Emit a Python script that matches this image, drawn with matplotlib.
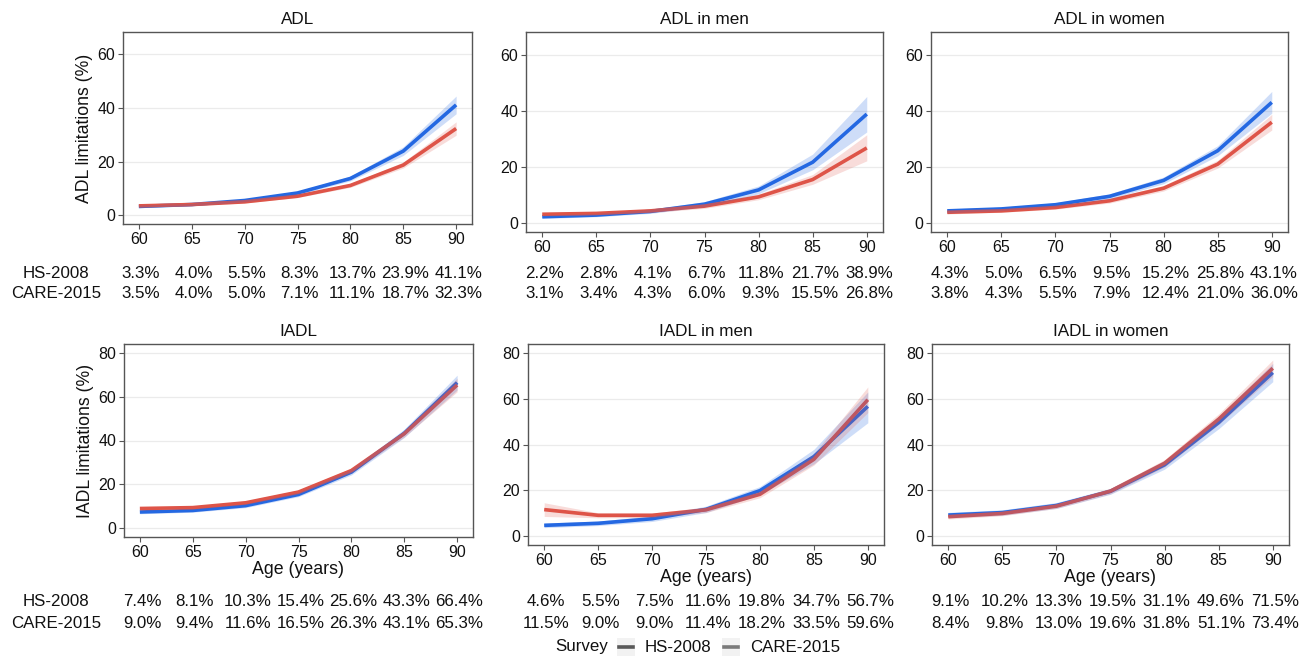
import matplotlib
matplotlib.use("Agg")
import matplotlib.pyplot as plt
from matplotlib import transforms
from matplotlib.lines import Line2D
from matplotlib.patches import Rectangle

plt.rcParams['font.family'] = ['Liberation Sans', 'DejaVu Sans']

ages = [60, 65, 70, 75, 80, 85, 90]
series_names = ["HS-2008", "CARE-2015"]
panel_titles = ["ADL", "ADL in men", "ADL in women", "IADL", "IADL in men", "IADL in women"]

adl_hs = [3.3, 4.0, 5.5, 8.3, 13.7, 23.9, 41.1]
adl_care = [3.5, 4.0, 5.0, 7.1, 11.1, 18.7, 32.3]
adl_men_hs = [2.2, 2.8, 4.1, 6.7, 11.8, 21.7, 38.9]
adl_men_care = [3.1, 3.4, 4.3, 6.0, 9.3, 15.5, 26.8]
adl_women_hs = [4.3, 5.0, 6.5, 9.5, 15.2, 25.8, 43.1]
adl_women_care = [3.8, 4.3, 5.5, 7.9, 12.4, 21.0, 36.0]
iadl_hs = [7.4, 8.1, 10.3, 15.4, 25.6, 43.3, 66.4]
iadl_care = [9.0, 9.4, 11.6, 16.5, 26.3, 43.1, 65.3]
iadl_men_hs = [4.6, 5.5, 7.5, 11.6, 19.8, 34.7, 56.7]
iadl_men_care = [11.5, 9.0, 9.0, 11.4, 18.2, 33.5, 59.6]
iadl_women_hs = [9.1, 10.2, 13.3, 19.5, 31.1, 49.6, 71.5]
iadl_women_care = [8.4, 9.8, 13.0, 19.6, 31.8, 51.1, 73.4]

# estimated confidence bands (lower, upper)
adl_hs_lo = [2.8, 3.6, 5.0, 7.7, 12.8, 22.3, 37.8]
adl_hs_hi = [3.8, 4.4, 6.0, 8.9, 14.6, 25.5, 44.4]
adl_care_lo = [3.1, 3.6, 4.6, 6.6, 10.4, 17.6, 29.8]
adl_care_hi = [3.9, 4.4, 5.4, 7.6, 11.8, 19.8, 34.8]
adl_men_hs_lo = [1.6, 2.2, 3.4, 5.8, 10.4, 19.0, 32.5]
adl_men_hs_hi = [2.8, 3.4, 4.8, 7.6, 13.2, 24.6, 45.2]
adl_men_care_lo = [2.5, 2.9, 3.7, 5.2, 8.3, 13.8, 22.2]
adl_men_care_hi = [3.7, 3.9, 4.9, 6.8, 10.3, 17.3, 31.5]
adl_women_hs_lo = [3.6, 4.4, 5.8, 8.6, 14.0, 24.0, 39.2]
adl_women_hs_hi = [5.0, 5.6, 7.2, 10.4, 16.4, 27.6, 47.0]
adl_women_care_lo = [3.2, 3.8, 4.9, 7.1, 11.4, 19.6, 33.2]
adl_women_care_hi = [4.4, 4.8, 6.1, 8.7, 13.4, 22.4, 38.8]
iadl_hs_lo = [6.6, 7.3, 9.4, 14.4, 24.3, 41.4, 63.0]
iadl_hs_hi = [8.2, 8.9, 11.2, 16.4, 26.9, 45.2, 69.8]
iadl_care_lo = [8.3, 8.7, 10.8, 15.6, 25.2, 41.6, 62.2]
iadl_care_hi = [9.7, 10.1, 12.4, 17.4, 27.4, 44.6, 68.4]
iadl_men_hs_lo = [3.6, 4.5, 6.3, 10.2, 18.0, 31.5, 49.5]
iadl_men_hs_hi = [5.6, 6.5, 8.7, 13.0, 21.6, 37.9, 63.0]
iadl_men_care_lo = [8.5, 7.9, 8.0, 10.2, 16.7, 31.0, 54.0]
iadl_men_care_hi = [14.5, 10.1, 10.0, 12.6, 19.7, 36.0, 65.2]
iadl_women_hs_lo = [7.9, 9.0, 12.0, 18.2, 29.2, 46.9, 67.5]
iadl_women_hs_hi = [10.3, 11.4, 14.6, 20.8, 33.0, 52.3, 75.5]
iadl_women_care_lo = [7.4, 8.8, 12.0, 18.4, 30.2, 48.8, 69.8]
iadl_women_care_hi = [9.4, 10.8, 14.0, 20.8, 33.4, 53.4, 77.0]

panels = [
    (adl_hs, adl_hs_lo, adl_hs_hi, adl_care, adl_care_lo, adl_care_hi),
    (adl_men_hs, adl_men_hs_lo, adl_men_hs_hi, adl_men_care, adl_men_care_lo, adl_men_care_hi),
    (adl_women_hs, adl_women_hs_lo, adl_women_hs_hi, adl_women_care, adl_women_care_lo, adl_women_care_hi),
    (iadl_hs, iadl_hs_lo, iadl_hs_hi, iadl_care, iadl_care_lo, iadl_care_hi),
    (iadl_men_hs, iadl_men_hs_lo, iadl_men_hs_hi, iadl_men_care, iadl_men_care_lo, iadl_men_care_hi),
    (iadl_women_hs, iadl_women_hs_lo, iadl_women_hs_hi, iadl_women_care, iadl_women_care_lo, iadl_women_care_hi),
]

BLUE = "#2468e2"
RED = "#de5448"
TXT = "#111111"
W, H = 1309, 658
fig = plt.figure(figsize=(W / 100, H / 100), dpi=100)

boxes = [
    (123, 472, 32, 224), (526, 883, 32, 232), (931, 1288, 32, 232),
    (124, 473, 344, 537), (528, 884, 344, 545), (932, 1289, 344, 545),
]
table_rows_y = [(273, 294), (602, 623)]

def fy(y):
    return 1 - y / H

for i, (title, data, box) in enumerate(zip(panel_titles, panels, boxes)):
    x0, x1, y0, y1 = box
    ax = fig.add_axes([x0 / W, fy(y1), (x1 - x0) / W, (y1 - y0) / H])
    hs, hs_lo, hs_hi, ca, ca_lo, ca_hi = data
    ax.plot(ages, hs, color=BLUE, lw=2.6, zorder=3, solid_capstyle='butt')
    ax.plot(ages, ca, color=RED, lw=2.6, zorder=3, solid_capstyle='butt')
    ax.fill_between(ages, hs_lo, hs_hi, color=BLUE, alpha=0.22, lw=0, zorder=4)
    ax.fill_between(ages, ca_lo, ca_hi, color=RED, alpha=0.2, lw=0, zorder=4)
    ax.set_xlim(58.5, 91.5)
    ax.set_xticks(ages)
    if i < 3:
        ax.set_ylim(-3.25, 68.25)
        ax.set_yticks([0, 20, 40, 60])
    else:
        ax.set_ylim(-4, 84)
        ax.set_yticks([0, 20, 40, 60, 80])
        ax.set_xlabel("Age (years)", fontsize=12.8, labelpad=1, color=TXT)
    ax.grid(axis='y', color="#ebebeb", lw=0.9, zorder=0)
    ax.set_axisbelow(True)
    for s in ax.spines.values():
        s.set_color("#555555")
        s.set_linewidth(1.0)
    ax.tick_params(axis='both', labelsize=11.5, colors=TXT, length=3.6, width=0.8,
                   pad=2, direction='out')
    ax.tick_params(axis='both', color="#555555")
    ax.set_title(title, fontsize=12.3, pad=6, color=TXT)
    if i == 0:
        ax.set_ylabel("ADL limitations (%)", fontsize=12.7, labelpad=3, color=TXT)
    if i == 3:
        ax.set_ylabel("IADL limitations (%)", fontsize=12.7, labelpad=3, color=TXT)

    # table beneath panel
    row = 0 if i < 3 else 1
    tr = transforms.blended_transform_factory(ax.transData, fig.transFigure)
    for vals, yy in zip((hs, ca), table_rows_y[row]):
        for a, v in zip(ages, vals):
            ax.text(a + 0.2, fy(yy), f"{v:.1f}%", transform=tr, ha='center', va='center',
                    fontsize=12.2, color=TXT, clip_on=False)
    if i % 3 == 0:
        for name, yy in zip(series_names, table_rows_y[row]):
            fig.text(56 / W, fy(yy), name, ha='center', va='center', fontsize=12.2, color=TXT)

# legend
ly = fy(647)
fig.text(555 / W, ly, "Survey", ha='left', va='center', fontsize=12.2, color=TXT)
key_specs = [(617, 645, "#595959", series_names[0]), (722, 750, "#7a7a7a", series_names[1])]
for kx, tx, kc, name in key_specs:
    fig.patches.append(Rectangle((kx / W, fy(656)), 18 / W, 18 / H, transform=fig.transFigure,
                                 facecolor="#f2f2f2", edgecolor="none"))
    fig.lines.append(Line2D([(kx + 2) / W, (kx + 16) / W], [ly, ly], transform=fig.transFigure,
                            color=kc, lw=2.6))
    fig.text(tx / W, ly, name, ha='left', va='center', fontsize=12.2, color=TXT)

fig.savefig("out.png", dpi=100, facecolor="white")
